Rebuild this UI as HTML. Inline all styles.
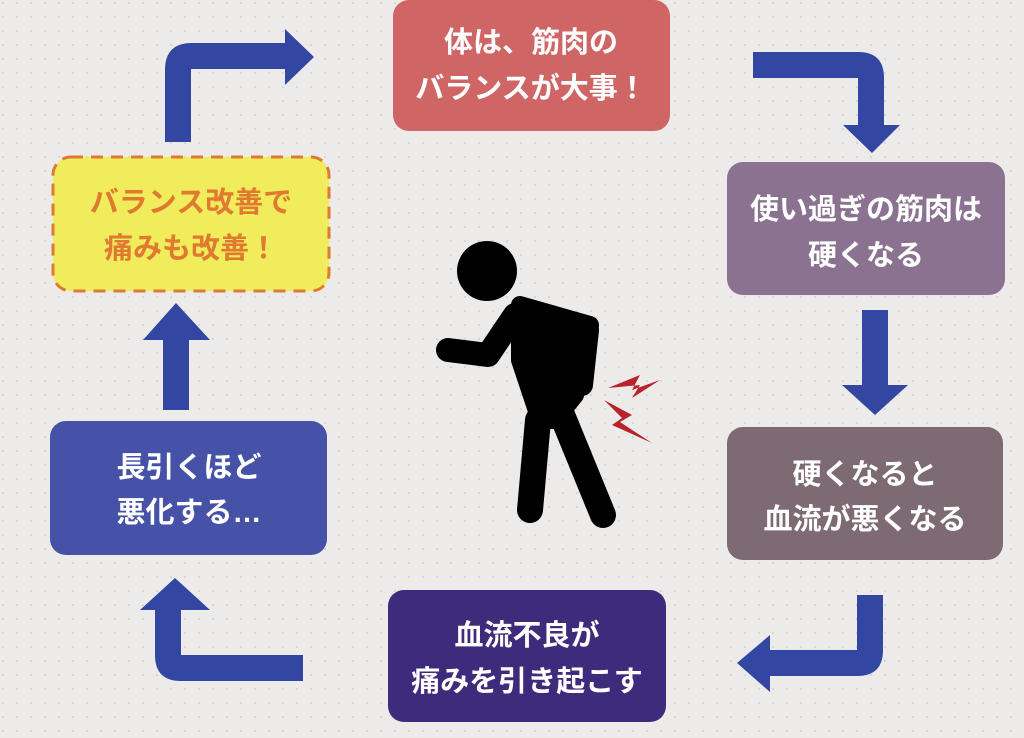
<!DOCTYPE html>
<html><head><meta charset="utf-8"><style>
body{margin:0;width:1024px;height:733px;overflow:hidden;background:#ecebea;}
.t{font-family:"Liberation Sans","Noto Sans CJK JP",sans-serif;font-weight:bold;font-size:29px;fill:#fff;text-anchor:middle;}
</style></head><body>
<svg width="1024" height="733" viewBox="0 0 1024 733">
<defs><pattern id="d" width="14" height="14" patternUnits="userSpaceOnUse"><circle cx="3" cy="3" r="0.8" fill="#b8b8c8"/></pattern></defs>
<rect width="1024" height="733" fill="#ecebea"/>
<rect width="1024" height="733" fill="url(#d)"/>
<g fill="#3246a2">
<path d="M165 142 V70 Q165 43 192 43 H285 V29 L314 57 L285 85 V69 H191 V142 Z"/>
<path d="M753 52 H858 Q884 52 884 78 V125 H900 L872 153 L843 125 H858 V78 H753 Z"/>
<path d="M862 310 H888 V385 H908 L875 415 L842 385 H862 Z"/>
<path d="M857 595 H883 V650 Q883 676 857 676 H770 V692 L737 663 L770 635 V650 H857 Z"/>
<path d="M303 655 V681 H181 Q155 681 155 655 V610 H140 L175 578 L210 610 H181 V655 Z"/>
<path d="M163 410 H189 V340 H210 L176 303 L143 340 H163 Z"/>
</g>
<rect x="393" y="0" width="277" height="131" rx="16" fill="#cf6565"/>
<text class="t" x="531" y="52">体は、筋肉の</text>
<text class="t" x="531" y="98">バランスが大事！</text>
<rect x="727" y="162" width="278" height="133" rx="16" fill="#8a7290"/>
<text class="t" x="866" y="219">使い過ぎの筋肉は</text>
<text class="t" x="866" y="265">硬くなる</text>
<rect x="727" y="427" width="276" height="133" rx="16" fill="#7d6a72"/>
<text class="t" x="865" y="484">硬くなると</text>
<text class="t" x="865" y="529">血流が悪くなる</text>
<rect x="388" y="590" width="278" height="132" rx="16" fill="#3e2b7c"/>
<text class="t" x="527" y="645">血流不良が</text>
<text class="t" x="527" y="691">痛みを引き起こす</text>
<rect x="50" y="421" width="277" height="134" rx="16" fill="#4651a8"/>
<text class="t" x="189" y="477">長引くほど</text>
<text class="t" x="189" y="522">悪化する…</text>
<rect x="53" y="157" width="276" height="134" rx="18" fill="#f1ec5c" stroke="#e07a30" stroke-width="3" stroke-dasharray="12 8"/>
<text class="t" x="191" y="212" style="fill:#e07a30">バランス改善で</text>
<text class="t" x="191" y="258" style="fill:#e07a30">痛みも改善！</text>
<g fill="#000" stroke="#000" stroke-linecap="round" stroke-linejoin="round">
<circle cx="487" cy="271" r="30" stroke="none"/>
<path d="M520 305 L590 325 L580 385 L575 360 L570 345 L562 395 L575 395 L555 420 L540 420 L520 360 Z" stroke-width="18"/>
<path d="M588 330 L582 385" fill="none" stroke-width="22"/>
<path d="M515 315 L488 355 L448 350" fill="none" stroke-width="24"/>
<path d="M538 420 L530 510 M560 410 L603 515" fill="none" stroke-width="26"/>
</g>
<g fill="#b8222a">
<path d="M608 388 L640 375 L632 390 L660 380 L632 398 L640 385 Z"/>
<path d="M604 400 L632 415 L620 422 L652 443 L612 425 L622 418 Z"/>
</g>
</svg>
</body></html>
